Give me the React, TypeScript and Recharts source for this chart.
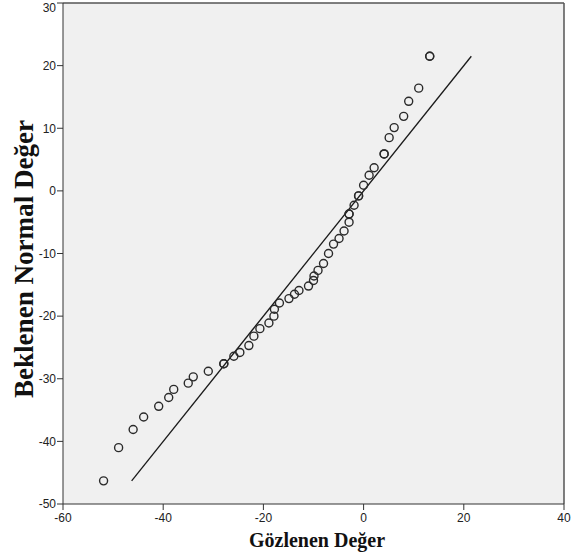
import React from 'react';
import { ScatterChart, Scatter, XAxis, YAxis, CartesianGrid, ReferenceLine } from 'recharts';

// observed values (Gözlenen Değer)
const observed = [
    -51.9, -48.9, -46.0, -43.9, -40.9, -38.9, -37.9, -35.0, -34.0, -31.0,
    -27.9, -27.9, -25.9, -24.7, -22.9, -21.9, -20.7, -18.9, -17.9, -17.8,
    -16.8, -14.9, -13.8, -12.9, -11.0, -10.0, -9.9, -9.1, -8.0, -7.0,
    -6.0, -4.9, -3.9, -2.9, -2.9, -2.9, -1.9, -1.0, -1.0, 0.0,
    1.1, 2.1, 4.1, 4.1, 5.1, 6.1, 8.0, 9.0, 11.0, 13.2, 13.2,
];

// expected normal values (Beklenen Normal Değer)
const expected = [
    -46.3, -41.0, -38.1, -36.1, -34.4, -33.0, -31.7, -30.7, -29.7, -28.8,
    -27.6, -27.6, -26.4, -25.8, -24.7, -23.2, -22.0, -21.1, -20.0, -18.9,
    -17.9, -17.2, -16.5, -15.9, -15.2, -14.3, -13.6, -12.7, -11.6, -10.0,
    -8.5, -7.6, -6.4, -5.0, -3.7, -3.7, -2.3, -0.8, -0.8, 0.9,
    2.5, 3.7, 5.9, 5.9, 8.5, 10.1, 11.9, 14.3, 16.4, 21.5, 21.5,
];

const xTicks = [-60, -40, -20, 0, 20, 40];
const yTicks = [-50, -40, -30, -20, -10, 0, 10, 20, 30];
const lineEnds = [-46.3, 21.5];

const points = observed.map((x, i) => ({ x, y: expected[i] }));

const tickStyle = { fontSize: 12, fill: '#222', fontFamily: '"Liberation Sans", Arial, sans-serif' };

export default function App() {
    return (
        <div style={{ width: 580, height: 557 }}>
            <style>{`body { margin: 0; }`}</style>
            <ScatterChart width={580} height={557} margin={{ top: 3, right: 16, bottom: 23, left: 3 }}>
                <CartesianGrid horizontal={false} vertical={false} fill="#F0F0F0" fillOpacity={1} />
                <XAxis
                    type="number"
                    dataKey="x"
                    domain={[-60, 40]}
                    ticks={xTicks}
                    height={30}
                    stroke="#333"
                    tick={tickStyle}
                    tickSize={6}
                    tickMargin={3}
                    allowDataOverflow
                    label={{
                        content: () => (
                            <text
                                x={317}
                                y={547}
                                textAnchor="middle"
                                style={{ fontFamily: '"Liberation Serif", "Times New Roman", serif', fontWeight: 'bold', fontSize: 20, fill: '#111' }}
                            >
                                Gözlenen Değer
                            </text>
                        ),
                    }}
                />
                <YAxis
                    type="number"
                    dataKey="y"
                    domain={[-50, 30]}
                    ticks={yTicks}
                    width={60}
                    stroke="#333"
                    tick={tickStyle}
                    tickSize={6}
                    tickMargin={1}
                    allowDataOverflow
                    label={{
                        content: () => (
                            <text
                                x={33}
                                y={259}
                                transform="rotate(-90 33 259)"
                                textAnchor="middle"
                                textLength={278}
                                lengthAdjust="spacingAndGlyphs"
                                style={{ fontFamily: '"Liberation Serif", "Times New Roman", serif', fontWeight: 'bold', fontSize: 27, fill: '#111' }}
                            >
                                Beklenen Normal Değer
                            </text>
                        ),
                    }}
                />
                <ReferenceLine y={30} stroke="#555" strokeWidth={1.5} />
                <ReferenceLine x={40} stroke="#555" strokeWidth={1.5} />
                <ReferenceLine
                    segment={[{ x: lineEnds[0], y: lineEnds[0] }, { x: lineEnds[1], y: lineEnds[1] }]}
                    stroke="#1a1a1a"
                    strokeWidth={1.3}
                />
                <Scatter
                    data={points}
                    isAnimationActive={false}
                    shape={(props: any) => (
                        <circle cx={props.cx} cy={props.cy} r={4} fill="none" stroke="#2a2a2a" strokeWidth={1.4} />
                    )}
                />
            </ScatterChart>
        </div>
    );
}
